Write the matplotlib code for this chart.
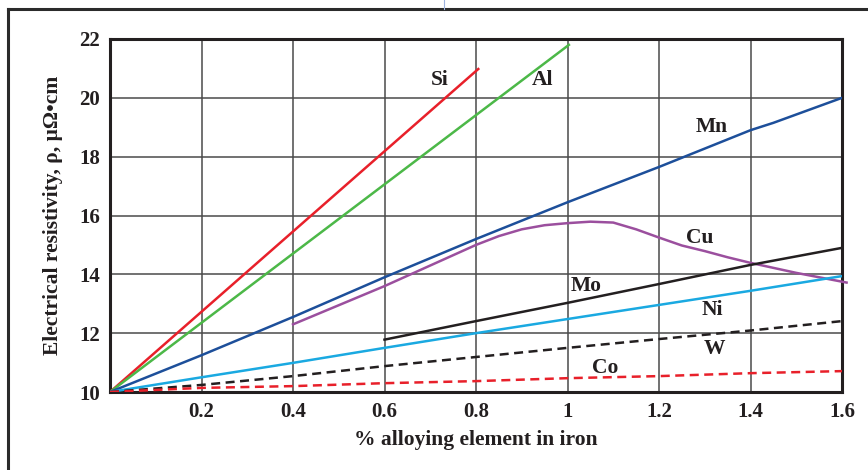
import matplotlib
matplotlib.use("Agg")
import matplotlib.pyplot as plt
from matplotlib import ticker
from matplotlib.lines import Line2D

plt.rcParams['font.family'] = ['Liberation Serif', 'DejaVu Serif']
plt.rcParams['font.weight'] = 'bold'

# data (wt% alloying element, resistivity in µΩ·cm)
si_x = [0.0, 0.805]
si_y = [10.0, 20.98]
al_x = [0.0, 1.003]
al_y = [10.0, 21.8]
mn_x = [0.0, 0.2, 0.4, 0.6, 0.8, 1.0, 1.2, 1.4, 1.45, 1.6]
mn_y = [10.0, 11.25, 12.55, 13.9, 15.2, 16.45, 17.65, 18.9, 19.15, 20.0]
cu_x = [0.4, 0.5, 0.6, 0.7, 0.8, 0.85, 0.9, 0.95, 1.0, 1.05, 1.1, 1.15, 1.2, 1.25, 1.3, 1.35, 1.4, 1.5, 1.61]
cu_y = [12.3, 12.95, 13.6, 14.3, 15.0, 15.3, 15.53, 15.67, 15.74, 15.79, 15.76, 15.53, 15.25, 14.98, 14.79, 14.58, 14.39, 14.05, 13.72]
mo_x = [0.6, 0.8, 1.0, 1.2, 1.4, 1.6]
mo_y = [11.78, 12.41, 13.03, 13.67, 14.32, 14.9]
ni_x = [0.0, 0.2, 0.4, 0.6, 0.8, 1.0, 1.2, 1.4, 1.6]
ni_y = [10.0, 10.5, 10.99, 11.5, 12.0, 12.48, 12.96, 13.44, 13.94]
w_x = [0.0, 0.2, 0.4, 0.6, 0.8, 1.0, 1.2, 1.4, 1.6]
w_y = [10.0, 10.24, 10.54, 10.88, 11.19, 11.5, 11.8, 12.09, 12.41]
co_x = [0.0, 0.2, 0.4, 0.6, 0.8, 1.0, 1.2, 1.4, 1.6]
co_y = [10.0, 10.14, 10.2, 10.3, 10.37, 10.47, 10.54, 10.64, 10.71]

xticks = [0.2, 0.4, 0.6, 0.8, 1.0, 1.2, 1.4, 1.6]
xtick_labels = ['0.2', '0.4', '0.6', '0.8', '1', '1.2', '1.4', '1.6']
yticks = [10, 12, 14, 16, 18, 20, 22]

fig = plt.figure(figsize=(8.68, 4.70), dpi=100)
ax = fig.add_axes([110/868, 78/470, 732/868, 353/470])

# outer frame of the figure box
fig.add_artist(Line2D([8/868, 8/868], [0, 1 - 9/470], transform=fig.transFigure, color='#2b2b2b', lw=2.2))
fig.add_artist(Line2D([8/868, 1], [1 - 9/470, 1 - 9/470], transform=fig.transFigure, color='#2b2b2b', lw=2.2))
fig.add_artist(Line2D([444/868, 444/868], [1 - 9/470, 1], transform=fig.transFigure, color='#9db3e0', lw=0.8))

lw = 1.8
ax.plot(si_x, si_y, color='#e8202a', lw=lw, zorder=5)
ax.plot(al_x, al_y, color='#4cb848', lw=lw, zorder=5)
ax.plot(mn_x, mn_y, color='#1d4f9a', lw=lw, zorder=5)
ax.plot(cu_x, cu_y, color='#9b4f9e', lw=lw, zorder=5, clip_on=False)
ax.plot(mo_x, mo_y, color='#231f20', lw=lw, zorder=5)
ax.plot(ni_x, ni_y, color='#1aa9e1', lw=lw, zorder=5)
ax.plot(w_x, w_y, color='#231f20', lw=lw, ls=(0, (3.6, 2.2)), zorder=5)
ax.plot(co_x, co_y, color='#e8202a', lw=lw, ls=(0, (3.6, 2.2)), zorder=5)

lab = dict(fontsize=15.5, fontweight='bold', color='#231f20', ha='center', va='center')
ax.text(0.72, 20.6, 'Si', **lab)
ax.text(0.946, 20.6, 'Al', **lab)
ax.text(1.316, 19.0, 'Mn', **lab)
ax.text(1.29, 15.22, 'Cu', **lab)
ax.text(1.04, 13.62, 'Mo', **lab)
ax.text(1.316, 12.78, 'Ni', **lab)
ax.text(1.322, 11.45, 'W', **lab)
ax.text(1.082, 10.8, 'Co', **lab)

ax.set_xlim(0, 1.6)
ax.set_ylim(10, 22)
ax.xaxis.set_major_locator(ticker.FixedLocator(xticks))
ax.xaxis.set_major_formatter(ticker.FixedFormatter(xtick_labels))
ax.yaxis.set_major_locator(ticker.FixedLocator(yticks))
ax.grid(True, color='#4a4a4a', lw=1.1)
ax.set_axisbelow(True)
ax.tick_params(length=0, labelsize=15, pad=7, colors='#231f20')
for s in ax.spines.values():
    s.set_color('#231f20')
    s.set_linewidth(2.2)

ax.set_xlabel('% alloying element in iron', fontsize=15.5, fontweight='bold', color='#231f20', labelpad=6)
ax.set_ylabel('Electrical resistivity, ρ, μΩ•cm', fontsize=15.5, fontweight='bold', color='#231f20', labelpad=12)

fig.savefig('out.png', dpi=100)
